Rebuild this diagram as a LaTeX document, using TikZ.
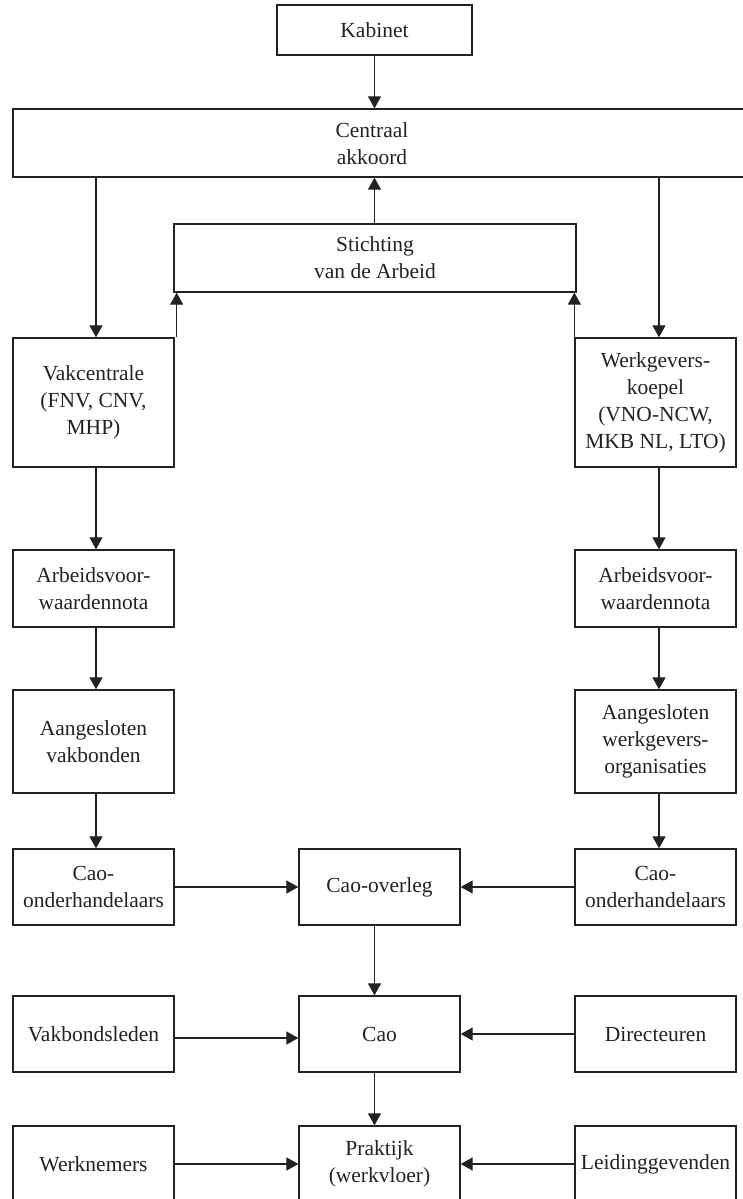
\documentclass[tikz,border=0pt]{standalone}
\usepackage{fontspec}
\setmainfont{Liberation Serif}
\usetikzlibrary{arrows.meta,calc}
\definecolor{ink}{HTML}{222222}
\begin{document}
\begin{tikzpicture}[x=1pt,y=1pt,
  box/.style={draw=ink,line width=1.3pt,rectangle,inner sep=0pt,align=center,text=ink,
    font=\fontsize{21.5}{27}\selectfont,minimum width=161pt},
  txt/.style={inner sep=0pt,align=center,text=ink,font=\fontsize{21.5}{27}\selectfont},
  arr/.style={draw=ink,line width=1.2pt,-{Triangle[width=13pt,length=12pt]}},
  ln/.style={draw=ink,line width=1.2pt}]
\useasboundingbox (0,0) rectangle (743,-1199);
% top
\node[box,minimum width=195pt,minimum height=50pt] (kab) at (374.5,-30) {Kabinet};
\node[box,minimum width=747pt,minimum height=68pt] (central) at (386.5,-143) {};
\node[txt] (centraltxt) at (372,-144) {Centraal\\akkoord};
\node[box,minimum width=402pt,minimum height=68pt] (stich) at (375,-258) {Stichting\\van de Arbeid};
% left column
\node[box,minimum height=129pt] (vak) at (93.5,-402.5) {\raisebox{-5pt}{}Vakcentrale\\(FNV, CNV,\\MHP)};
\node[box,minimum height=77pt] (arbL) at (93.5,-588.5) {Arbeidsvoor-\\waardennota};
\node[box,minimum height=103pt] (aanL) at (93.5,-741.5) {Aangesloten\\vakbonden};
\node[box,minimum height=76pt] (caoL) at (93.5,-887) {Cao-\\onderhandelaars};
\node[box,minimum height=76pt] (vbl) at (93.5,-1034) {Vakbondsleden};
\node[box,minimum height=76pt] (wn) at (93.5,-1164) {Werknemers};
% right column
\node[box,minimum height=129pt] (werk) at (655.5,-402.5) {Werkgevers-\\koepel\\(VNO-NCW,\\MKB NL, LTO)};
\node[box,minimum height=77pt] (arbR) at (655.5,-588.5) {Arbeidsvoor-\\waardennota};
\node[box,minimum height=103pt] (aanR) at (655.5,-741.5) {Aangesloten\\werkgevers-\\organisaties};
\node[box,minimum height=76pt] (caoR) at (655.5,-887) {Cao-\\onderhandelaars};
\node[box,minimum height=76pt] (dir) at (655.5,-1034) {Directeuren};
\node[box,minimum height=76pt] (leid) at (655.5,-1164) {Leidinggevenden};
% middle column
\node[box,minimum height=76pt] (overleg) at (379.5,-887) {Cao-overleg};
\node[box,minimum height=76pt] (cao) at (379.5,-1034) {Cao};
\node[box,minimum height=76pt] (prak) at (379.5,-1164) {Praktijk\\(werkvloer)};
% connectors top
\draw[arr] (kab.south) -- (kab.south |- central.north);
\draw[arr] (stich.north -| kab.south) -- (central.south -| kab.south);
\draw[arr] ([xshift=2.5pt]vak.north |- central.south) -- ([xshift=2.5pt]vak.north);
\draw[arr] ([xshift=3.5pt]werk.north |- central.south) -- ([xshift=3.5pt]werk.north);
\draw[arr] ([xshift=2pt]vak.north east) -- ([xshift=2pt]vak.north east |- stich.south);
\draw[arr] (werk.north west) -- (werk.north west |- stich.south);
% left chain
\draw[arr] ([xshift=2.5pt]vak.south) -- ([xshift=2.5pt]arbL.north);
\draw[arr] ([xshift=2.5pt]arbL.south) -- ([xshift=2.5pt]aanL.north);
\draw[arr] ([xshift=2.5pt]aanL.south) -- ([xshift=2.5pt]caoL.north);
% right chain
\draw[arr] ([xshift=3.5pt]werk.south) -- ([xshift=3.5pt]arbR.north);
\draw[arr] ([xshift=3.5pt]arbR.south) -- ([xshift=3.5pt]aanR.north);
\draw[arr] ([xshift=3.5pt]aanR.south) -- ([xshift=3.5pt]caoR.north);
% horizontals
\draw[arr] (caoL.east) -- (overleg.west);
\draw[arr] (caoR.west) -- (overleg.east);
\draw[arr] ([yshift=-4pt]vbl.east) -- ([yshift=-4pt]cao.west);
\draw[arr] (dir.west) -- (cao.east);
\draw[arr] (wn.east) -- (prak.west);
\draw[arr] (leid.west) -- (prak.east);
% middle chain
\draw[arr] (overleg.south -| kab.south) -- (cao.north -| kab.south);
\draw[arr] (cao.south -| kab.south) -- (prak.north -| kab.south);
\end{tikzpicture}
\end{document}
